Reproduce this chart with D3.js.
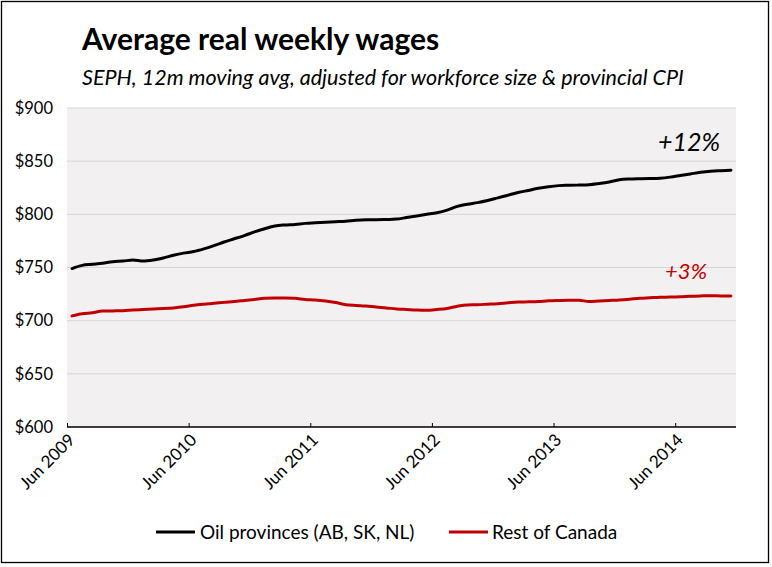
<!DOCTYPE html>
<html><head><meta charset="utf-8">
<script src="https://cdn.jsdelivr.net/npm/d3@7"></script>
<style>body{margin:0;background:#fff;} svg{display:block;font-family:Lato,"Open Sans",sans-serif;}</style>
</head><body>
<svg id="c" width="772" height="567"></svg>
<script>
const title = "Average real weekly wages";
const subtitle = "SEPH, 12m moving avg, adjusted for workforce size & provincial CPI";
const seriesNames = ["Oil provinces (AB, SK, NL)", "Rest of Canada"];
const oil = [749,752,753,754,755.5,756,757,756,757,759,761.5,763.5,765,767.5,770.5,774,777,780,783.5,786.5,789,790,790.5,791.5,792,792.5,793,793.5,794.5,795,795,795.2,795.5,797,798.5,800,801.5,804,807.5,809.5,811,813,815.5,818,820.5,822.5,824.5,826,827,827.3,827.5,827.8,829,830.5,832.5,833.2,833.5,833.7,834,835,836.5,838,839.5,840.5,841,841.4];
const rest = [704.5,706.5,707.5,709,709.2,709.4,710,710.5,711,711.4,712,713,714.5,715.5,716.3,717.2,718,719,720,721,721.3,721.3,721,720,719.5,718.5,717,715,714.3,713.8,712.8,712,711,710.5,710,709.8,710.5,711.5,713.5,714.8,715,715.5,716,716.8,717.5,717.7,718,718.7,719,719.2,719.2,718,718.5,719,719.5,720.2,721,721.5,722,722.2,722.5,723,723.3,723.5,723.3,723.2];
const xTickLabels = ["Jun 2009","Jun 2010","Jun 2011","Jun 2012","Jun 2013","Jun 2014"];
const xTickIndex = [0,12,24,36,48,60];
const yTicks = [600,650,700,750,800,850,900];
const annotations = ["+12%", "+3%"];

const svg = d3.select("#c");
const L = 67, R = 736, T = 108, B = 427;
const n = oil.length;
const x = d3.scaleLinear().domain([-0.5, n - 0.5]).range([L, R]);
const y = d3.scaleLinear().domain([600, 900]).range([B, T]);

svg.append("rect").attr("x",1.5).attr("y",1.5).attr("width",767).attr("height",561)
  .attr("fill","#fff").attr("stroke","#000").attr("stroke-width",1.3);

svg.append("rect").attr("x",L).attr("y",T).attr("width",R-L).attr("height",B-T).attr("fill","#F2F0F0");

svg.append("g").selectAll("line").data(yTicks.filter(d=>d>600)).join("line")
  .attr("x1",L).attr("x2",R).attr("y1",d=>y(d)).attr("y2",d=>y(d))
  .attr("stroke","#D6D6D6").attr("stroke-width",1);

const yAxis = d3.axisLeft(y).tickValues(yTicks).tickFormat(d=>"$"+d).tickSize(0).tickPadding(0);
const gy = svg.append("g").attr("transform",`translate(53,0)`).call(yAxis);
gy.select(".domain").remove();
gy.selectAll("text").attr("font-size",16.5).attr("fill","#000").attr("font-family","Lato,sans-serif");

const gx = svg.append("g").attr("transform",`translate(0,${B})`);
gx.append("line").attr("x1",L).attr("x2",R).attr("stroke","#000").attr("stroke-width",1.3);
const xAxis = d3.axisTop(x).tickValues(xTickIndex.map(i=>i-0.5)).tickFormat("").tickSize(4).tickSizeOuter(0);
const gxt = gx.append("g").call(xAxis);
gxt.select(".domain").remove();
gxt.selectAll("line").attr("stroke","#000");
gx.selectAll("text.lab").data(xTickIndex).join("text").attr("class","lab")
  .attr("transform",(d)=>`translate(${x(d-0.5)+9},${14}) rotate(-45)`)
  .attr("text-anchor","end").attr("font-size",17).attr("fill","#000")
  .text((d,i)=>xTickLabels[i]);

const line = d3.line().x((d,i)=>x(i)).y(d=>y(d)).curve(d3.curveMonotoneX);
const colors = ["#000000","#C00000"];
[oil, rest].forEach((s,k)=>{
  svg.append("path").datum(s).attr("d",line).attr("fill","none")
    .attr("stroke",colors[k]).attr("stroke-width",3).attr("stroke-linejoin","round").attr("stroke-linecap","round");
});

svg.append("text").attr("x",720).attr("y",y(oil[n-1])-19).attr("text-anchor","end")
  .attr("font-size",25).attr("font-style","italic").attr("fill","#000").text(annotations[0]);
svg.append("text").attr("x",707).attr("y",y(rest[n-1])-17).attr("text-anchor","end")
  .attr("font-size",22).attr("font-style","italic").attr("fill","#C00000").text(annotations[1]);

svg.append("text").attr("x",82).attr("y",50).attr("font-size",30).attr("font-weight","bold").attr("fill","#000").text(title);
svg.append("text").attr("x",82).attr("y",85).attr("font-size",21.5).attr("font-style","italic").attr("fill","#000").text(subtitle);

const leg = [{x:156, tx:200},{x:449, tx:492}];
leg.forEach((p,k)=>{
  svg.append("line").attr("x1",p.x).attr("x2",p.x+39).attr("y1",532).attr("y2",532).attr("stroke",colors[k]).attr("stroke-width",3);
  svg.append("text").attr("x",p.tx).attr("y",538.5).attr("font-size",19).attr("fill","#000").text(seriesNames[k]);
});
</script>
</body></html>
